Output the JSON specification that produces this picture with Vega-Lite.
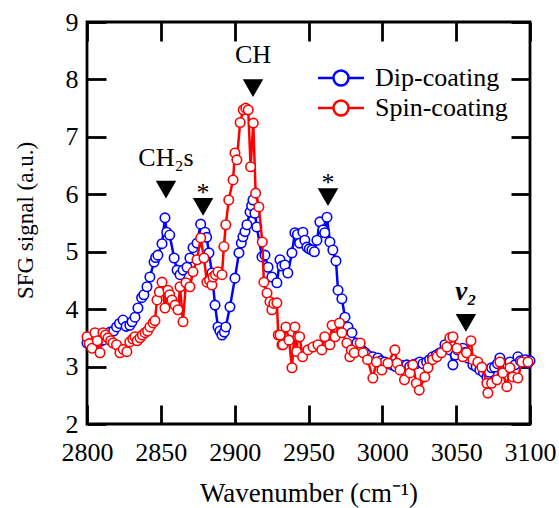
{
  "$schema": "https://vega.github.io/schema/vega-lite/v6.json",
  "width": 443,
  "height": 402,
  "autosize": {"type": "none"},
  "padding": {"left": 87, "top": 22, "right": 29, "bottom": 84},
  "config": {
    "font": "Liberation Serif",
    "view": {"stroke": "black", "strokeWidth": 2.8},
    "axis": {
      "grid": false,
      "domainColor": "black",
      "domainWidth": 2.8,
      "tickColor": "black",
      "tickWidth": 2.8,
      "tickSize": -19,
      "labelFlush": false,
      "labelOverlap": false,
      "labelFont": "Liberation Serif",
      "labelFontSize": 26,
      "labelColor": "black",
      "titleFont": "Liberation Serif",
      "titleFontSize": 26,
      "titleFontWeight": "normal",
      "titleColor": "black"
    }
  },
  "datasets": {
    "spectra": [
      {"w":2800,"s":3.41,"film":"Dip-coating"},{"w":2802.5,"s":3.38,"film":"Dip-coating"},{"w":2805.4,"s":3.34,"film":"Dip-coating"},{"w":2808,"s":3.42,"film":"Dip-coating"},{"w":2810.8,"s":3.46,"film":"Dip-coating"},{"w":2813,"s":3.55,"film":"Dip-coating"},{"w":2815.6,"s":3.6,"film":"Dip-coating"},{"w":2818,"s":3.62,"film":"Dip-coating"},{"w":2820,"s":3.69,"film":"Dip-coating"},{"w":2822,"s":3.75,"film":"Dip-coating"},{"w":2824.4,"s":3.81,"film":"Dip-coating"},{"w":2826.5,"s":3.7,"film":"Dip-coating"},{"w":2829,"s":3.72,"film":"Dip-coating"},{"w":2830.5,"s":3.78,"film":"Dip-coating"},{"w":2832.5,"s":3.86,"film":"Dip-coating"},{"w":2834.5,"s":4.02,"film":"Dip-coating"},{"w":2837,"s":4.2,"film":"Dip-coating"},{"w":2838.5,"s":4.25,"film":"Dip-coating"},{"w":2840.6,"s":4.39,"film":"Dip-coating"},{"w":2842.6,"s":4.56,"film":"Dip-coating"},{"w":2845.4,"s":4.82,"film":"Dip-coating"},{"w":2846.5,"s":4.9,"film":"Dip-coating"},{"w":2848,"s":4.94,"film":"Dip-coating"},{"w":2850.8,"s":5.14,"film":"Dip-coating"},{"w":2852.8,"s":5.59,"film":"Dip-coating"},{"w":2854,"s":5.34,"film":"Dip-coating"},{"w":2856,"s":5.29,"film":"Dip-coating"},{"w":2859,"s":4.89,"film":"Dip-coating"},{"w":2861,"s":4.68,"film":"Dip-coating"},{"w":2863,"s":4.6,"film":"Dip-coating"},{"w":2865,"s":4.68,"film":"Dip-coating"},{"w":2867.7,"s":4.73,"film":"Dip-coating"},{"w":2869.7,"s":4.89,"film":"Dip-coating"},{"w":2871.8,"s":5.07,"film":"Dip-coating"},{"w":2874.5,"s":5.15,"film":"Dip-coating"},{"w":2877,"s":5.48,"film":"Dip-coating"},{"w":2879.9,"s":5.34,"film":"Dip-coating"},{"w":2881,"s":5.25,"film":"Dip-coating"},{"w":2882.6,"s":4.98,"film":"Dip-coating"},{"w":2884.6,"s":4.63,"film":"Dip-coating"},{"w":2886.7,"s":4.07,"film":"Dip-coating"},{"w":2888.7,"s":3.69,"film":"Dip-coating"},{"w":2890,"s":3.62,"film":"Dip-coating"},{"w":2891.4,"s":3.55,"film":"Dip-coating"},{"w":2893,"s":3.6,"film":"Dip-coating"},{"w":2894,"s":3.69,"film":"Dip-coating"},{"w":2896.8,"s":4.04,"film":"Dip-coating"},{"w":2900.2,"s":4.54,"film":"Dip-coating"},{"w":2902.9,"s":4.98,"film":"Dip-coating"},{"w":2904.5,"s":5.15,"film":"Dip-coating"},{"w":2905.6,"s":5.26,"film":"Dip-coating"},{"w":2907,"s":5.35,"film":"Dip-coating"},{"w":2908.3,"s":5.47,"film":"Dip-coating"},{"w":2910.4,"s":5.69,"film":"Dip-coating"},{"w":2911.5,"s":5.8,"film":"Dip-coating"},{"w":2912.4,"s":5.9,"film":"Dip-coating"},{"w":2913.7,"s":5.67,"film":"Dip-coating"},{"w":2915,"s":5.43,"film":"Dip-coating"},{"w":2918.5,"s":4.91,"film":"Dip-coating"},{"w":2920.5,"s":4.94,"film":"Dip-coating"},{"w":2922.6,"s":4.73,"film":"Dip-coating"},{"w":2925.2,"s":4.56,"film":"Dip-coating"},{"w":2928.6,"s":4.46,"film":"Dip-coating"},{"w":2930.7,"s":4.86,"film":"Dip-coating"},{"w":2932,"s":4.75,"film":"Dip-coating"},{"w":2934,"s":4.77,"film":"Dip-coating"},{"w":2936,"s":4.63,"film":"Dip-coating"},{"w":2938.8,"s":4.98,"film":"Dip-coating"},{"w":2940.8,"s":5.33,"film":"Dip-coating"},{"w":2942.5,"s":5.3,"film":"Dip-coating"},{"w":2944,"s":5.15,"film":"Dip-coating"},{"w":2946.2,"s":5.34,"film":"Dip-coating"},{"w":2947.5,"s":5.2,"film":"Dip-coating"},{"w":2948.9,"s":5.08,"film":"Dip-coating"},{"w":2950.5,"s":5.05,"film":"Dip-coating"},{"w":2952.3,"s":5.03,"film":"Dip-coating"},{"w":2954,"s":5.0,"film":"Dip-coating"},{"w":2955.7,"s":5.2,"film":"Dip-coating"},{"w":2957.7,"s":5.52,"film":"Dip-coating"},{"w":2959.8,"s":5.38,"film":"Dip-coating"},{"w":2961,"s":5.33,"film":"Dip-coating"},{"w":2962.5,"s":5.6,"film":"Dip-coating"},{"w":2964.5,"s":5.17,"film":"Dip-coating"},{"w":2966.5,"s":5.03,"film":"Dip-coating"},{"w":2968.6,"s":4.84,"film":"Dip-coating"},{"w":2970,"s":4.33,"film":"Dip-coating"},{"w":2972.6,"s":4.18,"film":"Dip-coating"},{"w":2974.7,"s":3.86,"film":"Dip-coating"},{"w":2976.7,"s":3.69,"film":"Dip-coating"},{"w":2979.4,"s":3.59,"film":"Dip-coating"},{"w":2982.8,"s":3.41,"film":"Dip-coating"},{"w":2986,"s":3.29,"film":"Dip-coating"},{"w":2988,"s":3.25,"film":"Dip-coating"},{"w":2990,"s":3.2,"film":"Dip-coating"},{"w":2993.6,"s":3.17,"film":"Dip-coating"},{"w":2997,"s":3.15,"film":"Dip-coating"},{"w":2999,"s":3.1,"film":"Dip-coating"},{"w":3001.7,"s":3.08,"film":"Dip-coating"},{"w":3004,"s":3.05,"film":"Dip-coating"},{"w":3006.5,"s":3.03,"film":"Dip-coating"},{"w":3009,"s":3.0,"film":"Dip-coating"},{"w":3012,"s":2.99,"film":"Dip-coating"},{"w":3014,"s":3.02,"film":"Dip-coating"},{"w":3016.6,"s":3.03,"film":"Dip-coating"},{"w":3018.5,"s":3.0,"film":"Dip-coating"},{"w":3020.7,"s":3.03,"film":"Dip-coating"},{"w":3023,"s":3.05,"film":"Dip-coating"},{"w":3025.4,"s":3.08,"film":"Dip-coating"},{"w":3027.5,"s":3.05,"film":"Dip-coating"},{"w":3030,"s":3.08,"film":"Dip-coating"},{"w":3032,"s":3.12,"film":"Dip-coating"},{"w":3034,"s":3.17,"film":"Dip-coating"},{"w":3036.5,"s":3.2,"film":"Dip-coating"},{"w":3039,"s":3.24,"film":"Dip-coating"},{"w":3042.4,"s":3.38,"film":"Dip-coating"},{"w":3045.7,"s":3.29,"film":"Dip-coating"},{"w":3047.8,"s":3.03,"film":"Dip-coating"},{"w":3049.5,"s":3.2,"film":"Dip-coating"},{"w":3051,"s":3.29,"film":"Dip-coating"},{"w":3054.5,"s":3.32,"film":"Dip-coating"},{"w":3056,"s":3.25,"film":"Dip-coating"},{"w":3058,"s":3.15,"film":"Dip-coating"},{"w":3061.3,"s":3.03,"film":"Dip-coating"},{"w":3063.5,"s":3.0,"film":"Dip-coating"},{"w":3066,"s":2.94,"film":"Dip-coating"},{"w":3068.5,"s":2.9,"film":"Dip-coating"},{"w":3070.8,"s":2.82,"film":"Dip-coating"},{"w":3072.5,"s":2.9,"film":"Dip-coating"},{"w":3074,"s":2.98,"film":"Dip-coating"},{"w":3076,"s":2.99,"film":"Dip-coating"},{"w":3078,"s":3.05,"film":"Dip-coating"},{"w":3079.6,"s":3.15,"film":"Dip-coating"},{"w":3081.5,"s":3.05,"film":"Dip-coating"},{"w":3083,"s":2.99,"film":"Dip-coating"},{"w":3085,"s":3.02,"film":"Dip-coating"},{"w":3086.4,"s":3.08,"film":"Dip-coating"},{"w":3089.8,"s":3.03,"film":"Dip-coating"},{"w":3091.8,"s":3.17,"film":"Dip-coating"},{"w":3093.5,"s":3.1,"film":"Dip-coating"},{"w":3095.2,"s":3.08,"film":"Dip-coating"},{"w":3097,"s":3.12,"film":"Dip-coating"},{"w":3098.6,"s":3.06,"film":"Dip-coating"},{"w":3100,"s":3.1,"film":"Dip-coating"},
      {"w":2800,"s":3.52,"film":"Spin-coating"},{"w":2801.5,"s":3.4,"film":"Spin-coating"},{"w":2803.4,"s":3.32,"film":"Spin-coating"},{"w":2805.4,"s":3.59,"film":"Spin-coating"},{"w":2807,"s":3.45,"film":"Spin-coating"},{"w":2808.8,"s":3.24,"film":"Spin-coating"},{"w":2810.8,"s":3.59,"film":"Spin-coating"},{"w":2812.5,"s":3.55,"film":"Spin-coating"},{"w":2814.2,"s":3.5,"film":"Spin-coating"},{"w":2816,"s":3.45,"film":"Spin-coating"},{"w":2817.6,"s":3.41,"film":"Spin-coating"},{"w":2820,"s":3.38,"film":"Spin-coating"},{"w":2822.3,"s":3.24,"film":"Spin-coating"},{"w":2824.5,"s":3.3,"film":"Spin-coating"},{"w":2827,"s":3.26,"film":"Spin-coating"},{"w":2829,"s":3.43,"film":"Spin-coating"},{"w":2831,"s":3.48,"film":"Spin-coating"},{"w":2832.5,"s":3.52,"film":"Spin-coating"},{"w":2834,"s":3.45,"film":"Spin-coating"},{"w":2835.9,"s":3.5,"film":"Spin-coating"},{"w":2837.5,"s":3.55,"film":"Spin-coating"},{"w":2839.3,"s":3.59,"film":"Spin-coating"},{"w":2841,"s":3.62,"film":"Spin-coating"},{"w":2842.6,"s":3.69,"film":"Spin-coating"},{"w":2844.7,"s":3.76,"film":"Spin-coating"},{"w":2846,"s":3.8,"film":"Spin-coating"},{"w":2847.4,"s":4.16,"film":"Spin-coating"},{"w":2849,"s":4.3,"film":"Spin-coating"},{"w":2850.8,"s":4.47,"film":"Spin-coating"},{"w":2852.8,"s":4.02,"film":"Spin-coating"},{"w":2854.8,"s":4.33,"film":"Spin-coating"},{"w":2856,"s":4.25,"film":"Spin-coating"},{"w":2857.5,"s":4.16,"film":"Spin-coating"},{"w":2859.6,"s":4.07,"film":"Spin-coating"},{"w":2861.6,"s":3.99,"film":"Spin-coating"},{"w":2863,"s":4.39,"film":"Spin-coating"},{"w":2865,"s":3.78,"film":"Spin-coating"},{"w":2867,"s":4.46,"film":"Spin-coating"},{"w":2869.7,"s":4.39,"film":"Spin-coating"},{"w":2871.8,"s":4.65,"film":"Spin-coating"},{"w":2874.5,"s":4.86,"film":"Spin-coating"},{"w":2877,"s":5.24,"film":"Spin-coating"},{"w":2879.2,"s":4.89,"film":"Spin-coating"},{"w":2881.2,"s":4.47,"film":"Spin-coating"},{"w":2883,"s":4.5,"film":"Spin-coating"},{"w":2884.6,"s":4.42,"film":"Spin-coating"},{"w":2885.3,"s":4.56,"film":"Spin-coating"},{"w":2887,"s":4.6,"film":"Spin-coating"},{"w":2888.7,"s":4.65,"film":"Spin-coating"},{"w":2891.4,"s":4.6,"film":"Spin-coating"},{"w":2892.7,"s":5.09,"film":"Spin-coating"},{"w":2894,"s":5.47,"film":"Spin-coating"},{"w":2896,"s":5.9,"film":"Spin-coating"},{"w":2898.9,"s":6.25,"film":"Spin-coating"},{"w":2900.2,"s":6.72,"film":"Spin-coating"},{"w":2901.5,"s":6.6,"film":"Spin-coating"},{"w":2903.7,"s":7.25,"film":"Spin-coating"},{"w":2905.8,"s":7.47,"film":"Spin-coating"},{"w":2907.5,"s":7.5,"film":"Spin-coating"},{"w":2909.2,"s":7.47,"film":"Spin-coating"},{"w":2910.8,"s":6.48,"film":"Spin-coating"},{"w":2912.6,"s":7.24,"film":"Spin-coating"},{"w":2914.2,"s":6.02,"film":"Spin-coating"},{"w":2916.4,"s":5.78,"film":"Spin-coating"},{"w":2918.7,"s":5.17,"film":"Spin-coating"},{"w":2919.8,"s":4.47,"film":"Spin-coating"},{"w":2921.9,"s":4.28,"film":"Spin-coating"},{"w":2923.9,"s":4.13,"film":"Spin-coating"},{"w":2925.2,"s":3.99,"film":"Spin-coating"},{"w":2926.5,"s":4.1,"film":"Spin-coating"},{"w":2928.6,"s":4.11,"film":"Spin-coating"},{"w":2929.5,"s":3.55,"film":"Spin-coating"},{"w":2930.7,"s":3.55,"film":"Spin-coating"},{"w":2932,"s":3.38,"film":"Spin-coating"},{"w":2932.7,"s":3.38,"film":"Spin-coating"},{"w":2934.7,"s":3.69,"film":"Spin-coating"},{"w":2936.8,"s":3.46,"film":"Spin-coating"},{"w":2938.8,"s":2.98,"film":"Spin-coating"},{"w":2940.8,"s":3.69,"film":"Spin-coating"},{"w":2942,"s":3.26,"film":"Spin-coating"},{"w":2942.8,"s":3.52,"film":"Spin-coating"},{"w":2944,"s":3.52,"film":"Spin-coating"},{"w":2946,"s":3.17,"film":"Spin-coating"},{"w":2949.6,"s":3.29,"film":"Spin-coating"},{"w":2953,"s":3.34,"film":"Spin-coating"},{"w":2956.4,"s":3.38,"film":"Spin-coating"},{"w":2959,"s":3.29,"film":"Spin-coating"},{"w":2961,"s":3.52,"film":"Spin-coating"},{"w":2964.5,"s":3.38,"film":"Spin-coating"},{"w":2966,"s":3.72,"film":"Spin-coating"},{"w":2968,"s":3.52,"film":"Spin-coating"},{"w":2971,"s":3.76,"film":"Spin-coating"},{"w":2972.6,"s":3.59,"film":"Spin-coating"},{"w":2976,"s":3.41,"film":"Spin-coating"},{"w":2978,"s":3.17,"film":"Spin-coating"},{"w":2979,"s":3.29,"film":"Spin-coating"},{"w":2981,"s":3.24,"film":"Spin-coating"},{"w":2985,"s":3.41,"film":"Spin-coating"},{"w":2987,"s":3.24,"film":"Spin-coating"},{"w":2990,"s":3.12,"film":"Spin-coating"},{"w":2993.6,"s":2.8,"film":"Spin-coating"},{"w":2996,"s":3.08,"film":"Spin-coating"},{"w":2999.7,"s":2.94,"film":"Spin-coating"},{"w":3003.8,"s":3.06,"film":"Spin-coating"},{"w":3008.5,"s":3.29,"film":"Spin-coating"},{"w":3010,"s":3.06,"film":"Spin-coating"},{"w":3012,"s":2.94,"film":"Spin-coating"},{"w":3015,"s":2.77,"film":"Spin-coating"},{"w":3018.7,"s":2.89,"film":"Spin-coating"},{"w":3020.7,"s":3.03,"film":"Spin-coating"},{"w":3023,"s":2.71,"film":"Spin-coating"},{"w":3025,"s":2.59,"film":"Spin-coating"},{"w":3028.8,"s":2.82,"film":"Spin-coating"},{"w":3030.9,"s":2.98,"film":"Spin-coating"},{"w":3034,"s":3.12,"film":"Spin-coating"},{"w":3037,"s":3.17,"film":"Spin-coating"},{"w":3040,"s":3.24,"film":"Spin-coating"},{"w":3043.7,"s":3.34,"film":"Spin-coating"},{"w":3045.7,"s":3.5,"film":"Spin-coating"},{"w":3047.8,"s":3.52,"film":"Spin-coating"},{"w":3050.5,"s":3.32,"film":"Spin-coating"},{"w":3054.5,"s":3.17,"film":"Spin-coating"},{"w":3057,"s":3.24,"film":"Spin-coating"},{"w":3060,"s":3.45,"film":"Spin-coating"},{"w":3061.3,"s":3.12,"film":"Spin-coating"},{"w":3064.7,"s":3.08,"film":"Spin-coating"},{"w":3067.4,"s":2.99,"film":"Spin-coating"},{"w":3070.8,"s":2.71,"film":"Spin-coating"},{"w":3071.5,"s":2.54,"film":"Spin-coating"},{"w":3074,"s":2.71,"film":"Spin-coating"},{"w":3077.6,"s":2.77,"film":"Spin-coating"},{"w":3079.6,"s":3.08,"film":"Spin-coating"},{"w":3081.6,"s":2.89,"film":"Spin-coating"},{"w":3084.3,"s":2.65,"film":"Spin-coating"},{"w":3086.4,"s":2.98,"film":"Spin-coating"},{"w":3088.4,"s":2.82,"film":"Spin-coating"},{"w":3091.8,"s":2.8,"film":"Spin-coating"},{"w":3094.5,"s":3.08,"film":"Spin-coating"},{"w":3098.6,"s":3.08,"film":"Spin-coating"}
    ],
    "marks": [
      {"w":2853.5,"s":6.08},{"w":2878.6,"s":5.78},{"w":2912.4,"s":7.85},{"w":2963.2,"s":5.95},{"w":3056.6,"s":3.76}
    ],
    "labels": [
      {"w":2853.5,"s":6.63,"t":"CH₂s"},{"w":2878.6,"s":6.02,"t":"*"},{"w":2912.4,"s":8.43,"t":"CH"},{"w":2963.2,"s":6.19,"t":"*"}
    ],
    "nu": [
      {"w":3056.6,"s":4.3,"t":"v₂"}
    ]
  },
  "layer": [
    {
      "data": {"name": "spectra"},
      "transform": [{"filter": "datum.film === 'Dip-coating'"}],
      "mark": {"type": "line", "strokeWidth": 2.5},
      "encoding": {
        "x": {"field": "w", "type": "quantitative", "scale": {"domain": [2800, 3100], "nice": false}, "axis": {"values": [2800,2850,2900,2950,3000,3050,3100], "title": "Wavenumber (cm⁻¹)", "titleFontSize": 27, "labelPadding": 34, "titlePadding": 15, "format": "d", "domain": false}},
        "y": {"field": "s", "type": "quantitative", "scale": {"domain": [2, 9], "nice": false}, "axis": {"values": [2,3,4,5,6,7,8,9], "title": "SFG signal (a.u.)", "titleFontSize": 23, "labelPadding": 28, "titleX": -50, "titleY": 198, "domain": false}},
        "color": {"field": "film", "type": "nominal", "scale": {"domain": ["Dip-coating", "Spin-coating"], "range": ["#0000ff", "#ff0000"]},
          "legend": {"title": null, "orient": "none", "legendX": 241, "legendY": 43, "padding": 0, "symbolType": "M-4.6,0L-1.5,0M1.5,0L4.6,0M-1.5,0A1.5,1.5 0 1,1 1.5,0A1.5,1.5 0 1,1 -1.5,0Z", "symbolSize": 100, "symbolStrokeWidth": 2.5, "symbolFillColor": "white", "labelFont": "Liberation Serif", "labelFontSize": 26, "labelColor": "black", "labelOffset": 21, "rowPadding": 4}}
      }
    },
    {
      "data": {"name": "spectra"},
      "transform": [{"filter": "datum.film === 'Dip-coating'"}],
      "mark": {"type": "point", "shape": "circle", "filled": false, "fill": "white", "fillOpacity": 1, "opacity": 1, "size": 90, "strokeWidth": 1.6},
      "encoding": {
        "x": {"field": "w", "type": "quantitative", "axis": null},
        "y": {"field": "s", "type": "quantitative", "axis": null},
        "color": {"field": "film", "type": "nominal"}
      }
    },
    {
      "data": {"name": "spectra"},
      "transform": [{"filter": "datum.film === 'Spin-coating'"}],
      "mark": {"type": "line", "strokeWidth": 2.5},
      "encoding": {
        "x": {"field": "w", "type": "quantitative", "axis": null},
        "y": {"field": "s", "type": "quantitative", "axis": null},
        "color": {"field": "film", "type": "nominal"}
      }
    },
    {
      "data": {"name": "spectra"},
      "transform": [{"filter": "datum.film === 'Spin-coating'"}],
      "mark": {"type": "point", "shape": "circle", "filled": false, "fill": "white", "fillOpacity": 1, "opacity": 1, "size": 90, "strokeWidth": 1.6},
      "encoding": {
        "x": {"field": "w", "type": "quantitative", "axis": null},
        "y": {"field": "s", "type": "quantitative", "axis": null},
        "color": {"field": "film", "type": "nominal"}
      }
    },
    {
      "data": {"name": "marks"},
      "mark": {"type": "point", "shape": "triangle-down", "filled": true, "color": "black", "opacity": 1, "size": 420},
      "encoding": {
        "x": {"field": "w", "type": "quantitative", "axis": {"orient": "top", "labels": false, "title": null, "values": [2800,2850,2900,2950,3000,3050,3100], "domain": false}},
        "y": {"field": "s", "type": "quantitative", "axis": {"orient": "right", "labels": false, "title": null, "values": [2,3,4,5,6,7,8,9], "domain": false}}
      }
    },
    {
      "data": {"name": "labels"},
      "mark": {"type": "text", "font": "Liberation Serif", "fontSize": 26, "color": "black", "baseline": "middle", "align": "center"},
      "encoding": {
        "x": {"field": "w", "type": "quantitative", "axis": null},
        "y": {"field": "s", "type": "quantitative", "axis": null},
        "text": {"field": "t"}
      }
    },
    {
      "data": {"name": "nu"},
      "mark": {"type": "text", "font": "Liberation Serif", "fontSize": 27, "fontStyle": "italic", "fontWeight": "bold", "color": "black", "baseline": "middle", "align": "center"},
      "encoding": {
        "x": {"field": "w", "type": "quantitative", "axis": null},
        "y": {"field": "s", "type": "quantitative", "axis": null},
        "text": {"field": "t"}
      }
    }
  ],
  "resolve": {"axis": {"x": "independent", "y": "independent"}}
}
